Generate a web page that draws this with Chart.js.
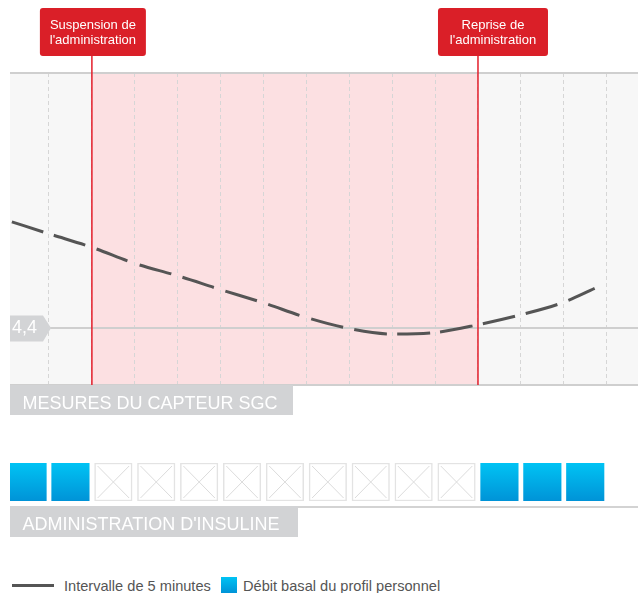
<!DOCTYPE html>
<html><head><meta charset="utf-8">
<script src="https://cdn.jsdelivr.net/npm/chart.js@4.4.0/dist/chart.umd.min.js"></script>
<style>
html,body{margin:0;padding:0;background:#fff;}
body{width:638px;height:593px;position:relative;overflow:hidden;font-family:"Liberation Sans",Arial,sans-serif;}
#c1{position:absolute;left:0;top:0;}
#c2{position:absolute;left:0;top:440px;}
.lgline{position:absolute;left:12px;top:583.5px;width:42px;height:3px;background:#555;}
.lgbox{position:absolute;left:221px;top:577px;width:16px;height:16px;background:linear-gradient(#00c3f4,#0093d7);}
.lgtxt{position:absolute;top:576.5px;font-size:14.6px;line-height:18px;color:#555;white-space:nowrap;}
</style></head>
<body>
<canvas id="c1" width="638" height="420"></canvas>
<canvas id="c2" width="638" height="100"></canvas>
<div class="lgline"></div>
<span class="lgtxt" id="lg1" style="left:64px"></span>
<div class="lgbox"></div>
<span class="lgtxt" id="lg2" style="left:243px"></span>
<script>
// ---- data (5-minute slots) ----
const timeSlots   = [0.09, 1, 2, 3, 4, 5, 6, 7, 8, 9, 10, 11, 12, 13, 13.72];
const sgcValues   = [6.18, 5.97, 5.745, 5.475, 5.27, 5.04, 4.82, 4.575, 4.39, 4.30, 4.325, 4.455, 4.62, 4.83, 5.06];
const thresholdValue = 4.4;
const thresholdLabel = '4,4';
const suspendSlot = 2;
const resumeSlot  = 11;
const suspendLabel = ['Suspension de', "l'administration"];
const resumeLabel  = ['Reprise de', "l'administration"];
const insulinSlots     = [0.5, 1.5, 2.5, 3.5, 4.5, 5.5, 6.5, 7.5, 8.5, 9.5, 10.5, 11.5, 12.5, 13.5];
const insulinDelivered = [1, 1, 0, 0, 0, 0, 0, 0, 0, 0, 0, 1, 1, 1];
const sensorTitle  = 'MESURES DU CAPTEUR SGC';
const insulinTitle = "ADMINISTRATION D'INSULINE";
const legendLabels = ['Intervalle de 5 minutes', 'Débit basal du profil personnel'];

const xAxisMin = 0.0909, xAxisMax = 14.73;
const yAxisMin = 3.45, yAxisMax = 8.65;
const FONT = '"Liberation Sans", Arial, sans-serif';

document.getElementById('lg1').textContent = legendLabels[0];
document.getElementById('lg2').textContent = legendLabels[1];

function roundRect(ctx, x, y, w, h, r) {
  ctx.beginPath();
  ctx.moveTo(x + r, y);
  ctx.lineTo(x + w - r, y); ctx.quadraticCurveTo(x + w, y, x + w, y + r);
  ctx.lineTo(x + w, y + h - r); ctx.quadraticCurveTo(x + w, y + h, x + w - r, y + h);
  ctx.lineTo(x + r, y + h); ctx.quadraticCurveTo(x, y + h, x, y + h - r);
  ctx.lineTo(x, y + r); ctx.quadraticCurveTo(x, y, x + r, y);
  ctx.closePath();
}

const sensorPlugin = {
  id: 'sensorDecor',
  beforeDraw(chart) {
    const {ctx, chartArea: a, scales: {x}} = chart;
    ctx.save();
    ctx.fillStyle = '#f7f7f7';
    ctx.fillRect(a.left, a.top, a.right - a.left, a.bottom - a.top);
    const xs = x.getPixelForValue(suspendSlot), xr = x.getPixelForValue(resumeSlot);
    ctx.fillStyle = '#fce0e2';
    ctx.fillRect(xs, a.top, xr - xs, a.bottom - a.top);
    ctx.restore();
  },
  beforeDatasetsDraw(chart) {
    const {ctx, chartArea: a, scales: {y}} = chart;
    const yy = y.getPixelForValue(thresholdValue);
    ctx.save();
    ctx.strokeStyle = '#cfcfcf';
    ctx.lineWidth = 2;
    ctx.beginPath(); ctx.moveTo(a.left, yy); ctx.lineTo(a.right, yy); ctx.stroke();
    ctx.restore();
  },
  afterDraw(chart) {
    const {ctx, chartArea: a, scales: {x, y}} = chart;
    ctx.save();
    ctx.strokeStyle = '#cfcfcf'; ctx.lineWidth = 2;
    ctx.beginPath(); ctx.moveTo(a.left, a.top); ctx.lineTo(a.right, a.top); ctx.stroke();
    ctx.beginPath(); ctx.moveTo(a.left, a.bottom); ctx.lineTo(a.right, a.bottom); ctx.stroke();
    const yy = y.getPixelForValue(thresholdValue);
    ctx.fillStyle = '#d3d4d6';
    ctx.beginPath();
    ctx.moveTo(a.left, yy - 12.5); ctx.lineTo(a.left + 33, yy - 12.5);
    ctx.lineTo(a.left + 41, yy); ctx.lineTo(a.left + 33, yy + 13.5);
    ctx.lineTo(a.left, yy + 13.5); ctx.closePath(); ctx.fill();
    ctx.fillStyle = '#fff'; ctx.font = '18px ' + FONT; ctx.textBaseline = 'alphabetic'; ctx.textAlign = 'left';
    ctx.fillText(thresholdLabel, a.left + 2, yy + 5);
    const marks = [[suspendSlot, suspendLabel, 1, 106], [resumeSlot, resumeLabel, 15, 110]];
    marks.forEach(([slot, lbl, shift, w]) => {
      const px = x.getPixelForValue(slot);
      ctx.strokeStyle = '#e41e2b'; ctx.lineWidth = 1.5;
      ctx.beginPath(); ctx.moveTo(px, 55); ctx.lineTo(px, a.bottom); ctx.stroke();
      ctx.font = '13px ' + FONT;
      const cx = px + shift;
      ctx.fillStyle = '#da1f28';
      roundRect(ctx, cx - w / 2, 8, w, 48, 3); ctx.fill();
      ctx.fillStyle = '#fff'; ctx.textAlign = 'center';
      ctx.fillText(lbl[0], cx, 28.5);
      ctx.fillText(lbl[1], cx, 44);
    });
    ctx.fillStyle = '#d2d3d5';
    ctx.fillRect(a.left, a.bottom, 283, 30);
    ctx.fillStyle = '#fff'; ctx.font = '18px ' + FONT; ctx.textAlign = 'left';
    ctx.fillText(sensorTitle, a.left + 12.5, a.bottom + 23.5);
    ctx.restore();
  }
};

new Chart(document.getElementById('c1'), {
  type: 'line',
  data: {
    datasets: [{
      data: timeSlots.map((t, i) => ({x: t, y: sgcValues[i]})),
      borderColor: '#555555',
      borderWidth: 3,
      pointRadius: 0,
      cubicInterpolationMode: 'monotone',
      borderDash: [33, 10],
      segment: {
        borderDashOffset: ctx => ctx.p0DataIndex === 0 ? 41 : (ctx.p0DataIndex % 2 ? 38 : 81)
      }
    }]
  },
  options: {
    responsive: false, animation: false, devicePixelRatio: 1,
    layout: {padding: {left: 10, right: 0, top: 73, bottom: 35}},
    plugins: {legend: {display: false}, tooltip: {enabled: false}},
    scales: {
      x: {type: 'linear', min: xAxisMin, max: xAxisMax, display: true,
          ticks: {display: false, stepSize: 1, includeBounds: false},
          grid: {color: '#d6d6d6', lineWidth: 1, drawTicks: false, tickLength: 0},
          border: {display: false, dash: [4, 3]}},
      y: {min: yAxisMin, max: yAxisMax, display: false}
    }
  },
  plugins: [sensorPlugin]
});

const insulinPlugin = {
  id: 'insulinDecor',
  afterDatasetsDraw(chart) {
    const {ctx} = chart;
    const meta = chart.getDatasetMeta(0);
    ctx.save();
    ctx.strokeStyle = '#dcdcdc'; ctx.lineWidth = 1;
    meta.data.forEach((el, i) => {
      if (insulinDelivered[i]) return;
      const p = el.getProps(['x', 'y', 'base', 'width'], true);
      const l = p.x - p.width / 2 + 3, r = p.x + p.width / 2 - 3;
      const t = Math.min(p.y, p.base) + 3, b = Math.max(p.y, p.base) - 3;
      ctx.beginPath(); ctx.moveTo(l, t); ctx.lineTo(r, b); ctx.moveTo(r, t); ctx.lineTo(l, b); ctx.stroke();
    });
    ctx.restore();
  },
  afterDraw(chart) {
    const {ctx, chartArea: a} = chart;
    ctx.save();
    ctx.strokeStyle = '#d3d3d3'; ctx.lineWidth = 2;
    ctx.beginPath(); ctx.moveTo(a.left, a.bottom + 6); ctx.lineTo(a.right, a.bottom + 6); ctx.stroke();
    ctx.fillStyle = '#d2d3d5';
    ctx.fillRect(a.left, a.bottom + 5, 288, 31);
    ctx.fillStyle = '#fff'; ctx.font = '18px ' + FONT; ctx.textAlign = 'left'; ctx.textBaseline = 'alphabetic';
    ctx.fillText(insulinTitle, a.left + 12.5, a.bottom + 28.5);
    ctx.restore();
  }
};

new Chart(document.getElementById('c2'), {
  type: 'bar',
  data: {
    datasets: [{
      data: insulinSlots.map(t => ({x: t, y: 1})),
      backgroundColor: ctx => {
        if (!insulinDelivered[ctx.dataIndex]) return '#ffffff';
        const a = ctx.chart.chartArea;
        if (!a) return '#00aee6';
        const g = ctx.chart.ctx.createLinearGradient(0, a.top, 0, a.bottom);
        g.addColorStop(0, '#00c3f4'); g.addColorStop(1, '#0093d7');
        return g;
      },
      borderColor: ctx => insulinDelivered[ctx.dataIndex] ? 'rgba(0,0,0,0)' : '#e3e3e3',
      borderWidth: ctx => insulinDelivered[ctx.dataIndex] ? 0 : 1.5,
      borderSkipped: false,
      barThickness: 37.5
    }]
  },
  options: {
    responsive: false, animation: false, devicePixelRatio: 1,
    layout: {padding: {left: 10, right: 0, top: 23, bottom: 39}},
    plugins: {legend: {display: false}, tooltip: {enabled: false}},
    scales: {
      x: {type: 'linear', min: xAxisMin, max: xAxisMax, display: false, offset: false},
      y: {min: 0, max: 1, display: false}
    }
  },
  plugins: [insulinPlugin]
});
</script>
</body></html>
